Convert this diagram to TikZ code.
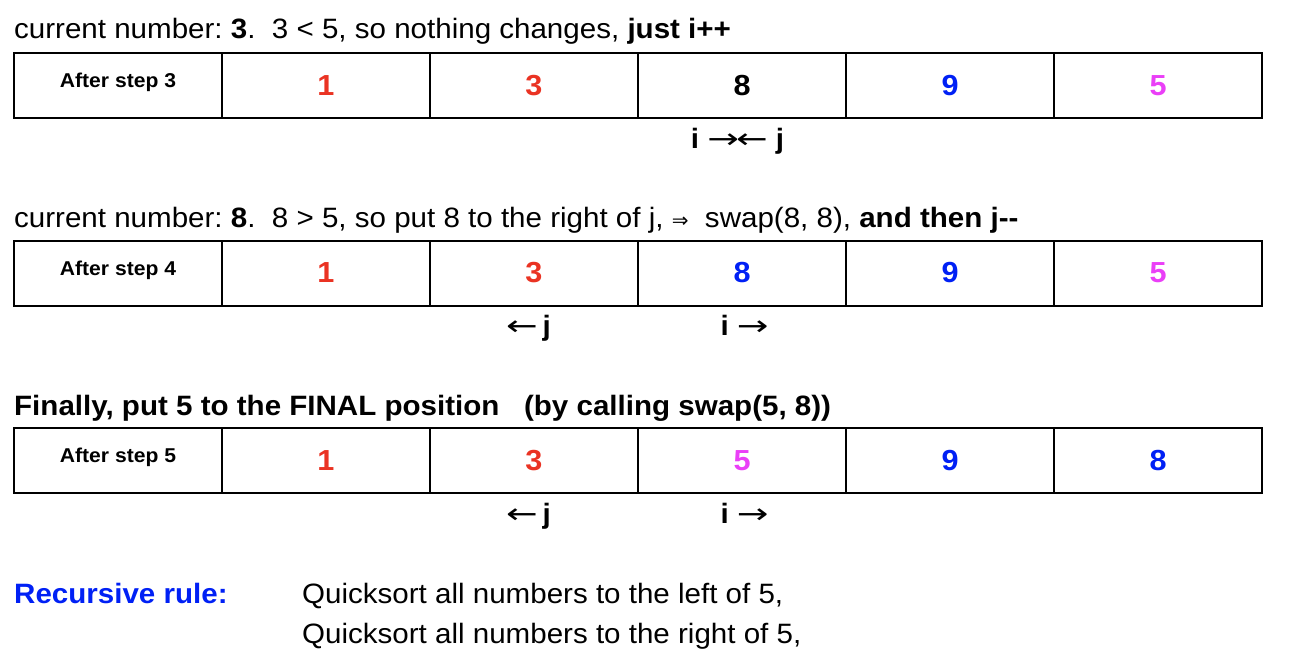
\documentclass[tikz,border=0pt]{standalone}
\usepackage{fontspec}
\setmainfont{Liberation Sans}[FakeStretch=1.055]
\newfontfamily\symfont{DejaVu Sans}
\newfontfamily\arrowfont{DejaVu Sans}[FakeStretch=1.35]
\frenchspacing
\definecolor{numred}{HTML}{EA3323}
\definecolor{numblue}{HTML}{0020F5}
\definecolor{numpink}{HTML}{EA3FF7}
\newcommand{\ra}{{\arrowfont\mdseries\fontsize{28}{32}\selectfont →}}
\newcommand{\la}{{\arrowfont\mdseries\fontsize{28}{32}\selectfont ←}}
\tikzset{
	cell/.style={draw, line width=2pt, minimum width=208pt, minimum height=65pt, inner sep=0pt, outer sep=0pt, font=\fontsize{29}{32}\selectfont\bfseries},
	steplab/.style={cell, text depth=10pt, font=\fontsize{20}{22}\selectfont\bfseries},
	head/.style={anchor=base west, inner sep=0pt, font=\fontsize{28}{32}\selectfont},
	ptr/.style={anchor=base, inner sep=0pt, font=\fontsize{28}{32}\selectfont\bfseries},
}
\begin{document}
\begin{tikzpicture}[x=1pt, y=-1pt]
			\useasboundingbox (0, 0) rectangle (1298, 670);

			\node[head] (h3) at (14, 38) {current number: \textbf{3}.\ \ 3 < 5, so nothing changes, \textbf{just i++}};
			\node[steplab] (s3) at (118, 85.5) {After step 3};
			\node[cell, text=numred] (s3a) at (326, 85.5) {1};
			\node[cell, text=numred] (s3b) at (534, 85.5) {3};
			\node[cell] (s3c) at (742, 85.5) {8};
			\node[cell, text=numblue] (s3d) at (950, 85.5) {9};
			\node[cell, text=numpink] (s3e) at (1158, 85.5) {5};
			\node[ptr] (p3) at (737.5, 148) {i \ra\kern-3pt\la\ j};

			\node[head] (h4) at (14, 227) {current number: \textbf{8}.\ \ 8 > 5, so put 8 to the right of j, {\symfont\fontsize{20}{24}\selectfont ⇒}\ \ swap(8, 8), \textbf{and then j-{}-}};
			\node[steplab] (s4) at (118, 273) {After step 4};
			\node[cell, text=numred] (s4a) at (326, 273) {1};
			\node[cell, text=numred] (s4b) at (534, 273) {3};
			\node[cell, text=numblue] (s4c) at (742, 273) {8};
			\node[cell, text=numblue] (s4d) at (950, 273) {9};
			\node[cell, text=numpink] (s4e) at (1158, 273) {5};
			\node[ptr] (j4) at (528.5, 335) {\la\kern5pt j};
			\node[ptr] (i4) at (744.5, 335) {i\kern8pt\ra};

			\node[head] (h5) at (14, 415) {\textbf{Finally, put 5 to the FINAL position\ \ \ (by calling swap(5, 8))}};
			\node[steplab] (s5) at (118, 460.5) {After step 5};
			\node[cell, text=numred] (s5a) at (326, 460.5) {1};
			\node[cell, text=numred] (s5b) at (534, 460.5) {3};
			\node[cell, text=numpink] (s5c) at (742, 460.5) {5};
			\node[cell, text=numblue] (s5d) at (950, 460.5) {9};
			\node[cell, text=numblue] (s5e) at (1158, 460.5) {8};
			\node[ptr] (j5) at (528.5, 523) {\la\kern5pt j};
			\node[ptr] (i5) at (744.5, 523) {i\kern8pt\ra};

			\node[head, text=numblue, font=\fontsize{28}{32}\selectfont\bfseries] (rr) at (14, 603) {Recursive rule:};
			\node[head] (q1) at (302, 603) {Quicksort all numbers to the left of 5,};
			\node[head] (q2) at (302, 643) {Quicksort all numbers to the right of 5,};
		\end{tikzpicture}
\end{document}
